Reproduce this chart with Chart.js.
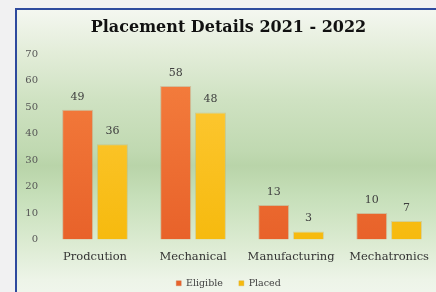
<!DOCTYPE html>
<html>
<head>
<meta charset="utf-8">
<script src="https://cdn.jsdelivr.net/npm/chart.js@4"></script>
<style>
html,body{margin:0;padding:0;width:436px;height:292px;overflow:hidden;background:#f1f1f2;}
#frame{position:absolute;left:15px;top:8px;width:440px;height:300px;border:2px solid #2e4a9e;
background:linear-gradient(to bottom,#f4f7f0 0%,#e3edd9 14%,#cfe2c2 30%,#c0d9b1 47%,#b9d4a9 52%,#c6dfb9 62%,#dcebd2 78%,#edf4e8 90%,#f3f7f0 100%);}
#wrap{position:absolute;left:0;top:0;width:423px;height:292px;}
</style>
</head>
<body>
<div id="frame"><div id="wrap"><canvas id="c" width="423" height="292"></canvas></div></div>
<script>
const categories = ["Prodcution", "Mechanical", "Manufacturing", "Mechatronics"];
const eligible = [49, 58, 13, 10];
const placed = [36, 48, 3, 7];
const yTicks = [0, 10, 20, 30, 40, 50, 60, 70];
const seriesNames = ["Eligible", "Placed"];

function grad(ctx, top, bottom) {
  const ch = ctx.chart;
  const a = ch.chartArea;
  if (!a) return bottom;
  const g = ch.ctx.createLinearGradient(0, a.top, 0, a.bottom);
  g.addColorStop(0, top);
  g.addColorStop(1, bottom);
  return g;
}

const valueLabels = {
  id: 'valueLabels',
  afterDatasetsDraw(chart) {
    const ctx = chart.ctx;
    ctx.save();
    ctx.font = '11px "DejaVu Serif"';
    ctx.fillStyle = '#3f3f3f';
    ctx.textAlign = 'center';
    ctx.textBaseline = 'middle';
    chart.data.datasets.forEach((ds, i) => {
      chart.getDatasetMeta(i).data.forEach((bar, j) => {
        ctx.fillText(String(ds.data[j]), bar.x, bar.y - 13);
      });
    });
    ctx.restore();
  }
};

new Chart(document.getElementById('c'), {
  type: 'bar',
  data: {
    labels: categories,
    datasets: [
      { label: seriesNames[0], data: eligible,
        backgroundColor: c => grad(c, '#f5803f', '#e8622a'),
        borderColor: 'rgba(200,120,80,0.35)', borderWidth: 1 },
      { label: seriesNames[1], data: placed,
        backgroundColor: c => grad(c, '#ffcb3c', '#f6ba0e'),
        borderColor: 'rgba(210,170,60,0.35)', borderWidth: 1 }
    ]
  },
  options: {
    responsive: false,
    animation: false,
    devicePixelRatio: 1,
    layout: { padding: { left: 0, right: 0, top: 0, bottom: 4 } },
    datasets: { bar: { categoryPercentage: 0.71, barPercentage: 0.89 } },
    plugins: {
      title: {
        display: true,
        text: 'Placement Details 2021 - 2022',
        color: '#111',
        font: { family: '"DejaVu Serif"', size: 16, weight: 'bold' },
        padding: { top: 8, bottom: 17 }
      },
      legend: {
        position: 'bottom',
        labels: {
          boxWidth: 5, boxHeight: 5, color: '#404040',
          font: { family: '"DejaVu Serif"', size: 9.5 },
          padding: 16
        }
      },
      tooltip: { enabled: false }
    },
    scales: {
      x: {
        afterFit: s => { s.height = 23; },
        grid: { display: false, drawTicks: false },
        border: { display: false },
        ticks: { color: '#333', font: { family: '"DejaVu Serif"', size: 11.5 }, padding: 11, maxRotation: 0, autoSkip: false }
      },
      y: {
        min: 0, max: 70,
        afterBuildTicks: s => { s.ticks = yTicks.map(v => ({ value: v })); },
        afterFit: s => { s.width = 29; },
        grid: { display: false, drawTicks: false },
        border: { display: false },
        ticks: { color: '#555', font: { family: '"DejaVu Serif"', size: 10 }, padding: 8 }
      }
    }
  },
  plugins: [valueLabels]
});
</script>
</body>
</html>
